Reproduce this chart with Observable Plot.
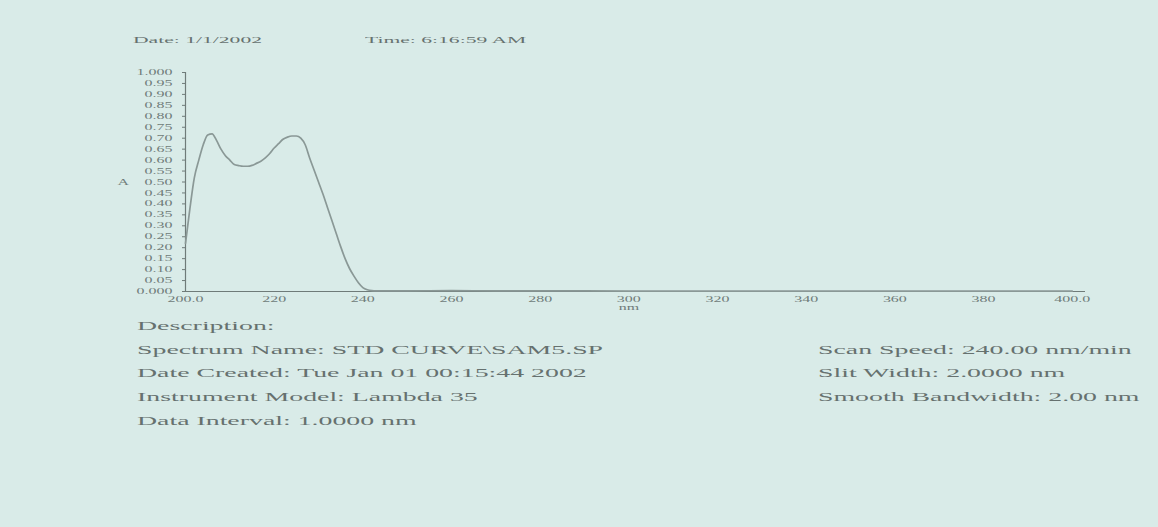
<!DOCTYPE html>
<html><head><meta charset="utf-8">
<script src="https://cdn.jsdelivr.net/npm/d3@7"></script>
<script src="https://cdn.jsdelivr.net/npm/@observablehq/plot@0.6"></script>
<style>
html,body{margin:0;padding:0;background:#d9ebe8;}
#page{position:relative;width:1158px;height:527px;overflow:hidden;background:#d9ebe8;font-family:"Liberation Serif",serif;color:#66716f;}
.t{position:absolute;white-space:nowrap;transform-origin:0 50%;line-height:1;}
.h{font-size:9px;transform:scaleX(2.4);}
.d{font-size:13px;transform:scaleX(2.14);}
#chart{position:absolute;left:0;top:60px;}
</style></head>
<body><div id="page">
<div class="t h" style="left:133px;top:36px">Date: 1/1/2002</div>
<div class="t h" style="left:365px;top:36px">Time: 6:16:59 AM</div>
<div id="chart"></div>
<div class="t d" style="left:137px;top:319px">Description:</div>
<div class="t d" style="left:137px;top:343px">Spectrum Name: STD CURVE\SAM5.SP</div>
<div class="t d" style="left:137px;top:366px">Date Created: Tue Jan 01 00:15:44 2002</div>
<div class="t d" style="left:137px;top:390px">Instrument Model: Lambda 35</div>
<div class="t d" style="left:137px;top:414px">Data Interval: 1.0000 nm</div>
<div class="t d" style="left:818px;top:343px">Scan Speed: 240.00 nm/min</div>
<div class="t d" style="left:818px;top:366px">Slit Width: 2.0000 nm</div>
<div class="t d" style="left:818px;top:390px">Smooth Bandwidth: 2.00 nm</div>
</div>
<script>
const wavelengths = [200,201,202,203,204,205,206,207,208,209,210,211,212,213,214,215,216,217,218,219,220,221,222,223,224,225,226,227,228,229,230,231,232,233,234,235,236,237,238,239,240,241,242,243,250,260,270,280,290,300,320,340,360,380,400];
const absorbance = [0.22,0.38,0.52,0.60,0.67,0.715,0.72,0.69,0.65,0.62,0.60,0.58,0.575,0.572,0.572,0.576,0.585,0.595,0.61,0.63,0.655,0.675,0.695,0.705,0.71,0.71,0.70,0.67,0.61,0.555,0.50,0.445,0.385,0.325,0.265,0.205,0.15,0.105,0.07,0.04,0.018,0.008,0.004,0.003,0.003,0.004,0.003,0.003,0.003,0.002,0.002,0.002,0.002,0.002,0.002];
const xTicks = [200,220,240,260,280,300,320,340,360,380,400];
const xTickLabels = ["200.0","220","240","260","280","300\nnm","320","340","360","380","400.0"];
const yTicks = [0,0.05,0.10,0.15,0.20,0.25,0.30,0.35,0.40,0.45,0.50,0.55,0.60,0.65,0.70,0.75,0.80,0.85,0.90,0.95,1.0];
const yTickLabels = ["0.000","0.05","0.10","0.15","0.20","0.25","0.30","0.35","0.40","0.45","0.50","0.55","0.60","0.65","0.70","0.75","0.80","0.85","0.90","0.95","1.000"];
const yLabel = "A";

const data = wavelengths.map((w, i) => ({nm: w, A: absorbance[i]}));
const axisColor = "#6f7b79";

const chart = Plot.plot({
  width: 1158,
  height: 255,
  marginLeft: 185,
  marginRight: 73,
  marginTop: 12,
  marginBottom: 24,
  style: {background: "transparent", color: axisColor, fontFamily: "Liberation Serif, serif", fontSize: "8px"},
  x: {domain: [200, 403]},
  y: {domain: [0, 1]},
  marks: [
    Plot.axisX({ticks: xTicks, tickSize: 0, tickPadding: 5, tickFormat: d => xTickLabels[xTicks.indexOf(d)], label: null, fill: axisColor}),
    Plot.axisY({ticks: yTicks, tickSize: 3, tickPadding: 10, tickFormat: d => yTickLabels[yTicks.findIndex(v => Math.abs(v - d) < 1e-9)], label: null, fill: axisColor, stroke: axisColor}),
    Plot.ruleY([0], {stroke: axisColor, strokeWidth: 1}),
    Plot.ruleX([200], {y1: 0, y2: 1, stroke: axisColor, strokeWidth: 1.2}),
    Plot.line(data, {x: "nm", y: "A", stroke: "#8a9896", strokeWidth: 1.7, curve: "monotone-x"}),
    Plot.text([yLabel], {frameAnchor: "left", dx: -68, fill: axisColor, fontSize: 8})
  ]
});
chart.querySelectorAll("text").forEach(t => {
  const tr = t.getAttribute("transform");
  if (tr) t.setAttribute("transform", tr + " scale(2,1)");
});
document.getElementById("chart").appendChild(chart);
</script>
</body></html>
